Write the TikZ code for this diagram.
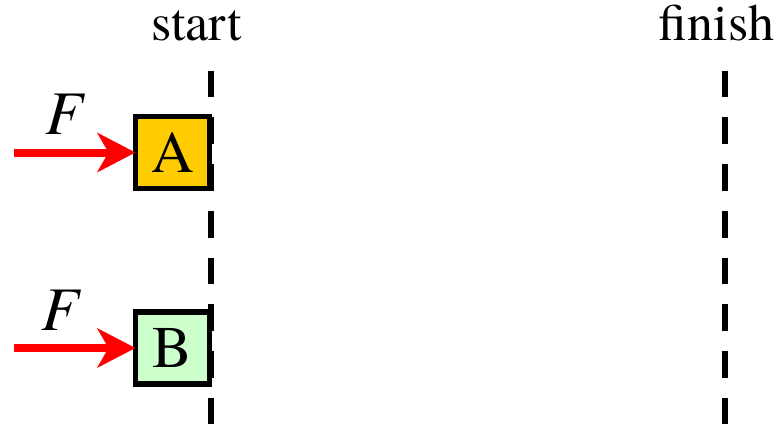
\documentclass[tikz,border=0pt]{standalone}
\usepackage{fontspec}
\setmainfont{TeX Gyre Termes}
\usetikzlibrary{arrows.meta}
\definecolor{boxyellow}{HTML}{FFCC00}
\definecolor{boxgreen}{HTML}{CCFFCC}
\tikzset{
  marklabel/.style={font=\fontsize{52}{60}\selectfont, inner sep=0pt},
  massbox/.style={draw=black, line width=5.5pt, minimum width=74pt,
    minimum height=72pt, inner sep=0pt, outer sep=0pt,
    font=\fontsize{59}{64}\selectfont},
  forcearrow/.style={red, line width=8pt,
    -{Stealth[length=38pt,width=39pt,inset=11pt]}},
  forcelabel/.style={font=\fontsize{62}{66}\selectfont\itshape},
  markline/.style={line width=6pt,
    dash pattern=on 26.7pt off 20pt},
}

\begin{document}
\begin{tikzpicture}[
  x=1pt,
  y=-1pt,
]
\useasboundingbox (0,0) rectangle (784,424);

% start and finish marks
\node [marklabel, anchor=base] (start) at (196.7,40.5) {start};
\node [marklabel, anchor=base] (finish) at (716.7,40.5) {finish};

\foreach \i/\n/\c/\y/\fx in {A/A/boxyellow/152.5/64,
                             B/B/boxgreen/348/60}
  {
   \node [massbox, fill=\c, name=box-\i] at (172.5,\y) {\n};
   \coordinate (tail-\i) at (14,\y);
   \draw [forcearrow] (tail-\i) -- (box-\i.west);
   \node [forcelabel, name=force-\i] at (\fx,\y-38) {F};
  }

\coordinate (start-top) at (210.7,70.7);
\coordinate (start-end) at (210.7,424);
\coordinate (finish-top) at (725,70.7);
\coordinate (finish-end) at (725,424);
\draw [markline] (start-top) -- (start-end);
\draw [markline] (finish-top) -- (finish-end);

\end{tikzpicture}
\end{document}
